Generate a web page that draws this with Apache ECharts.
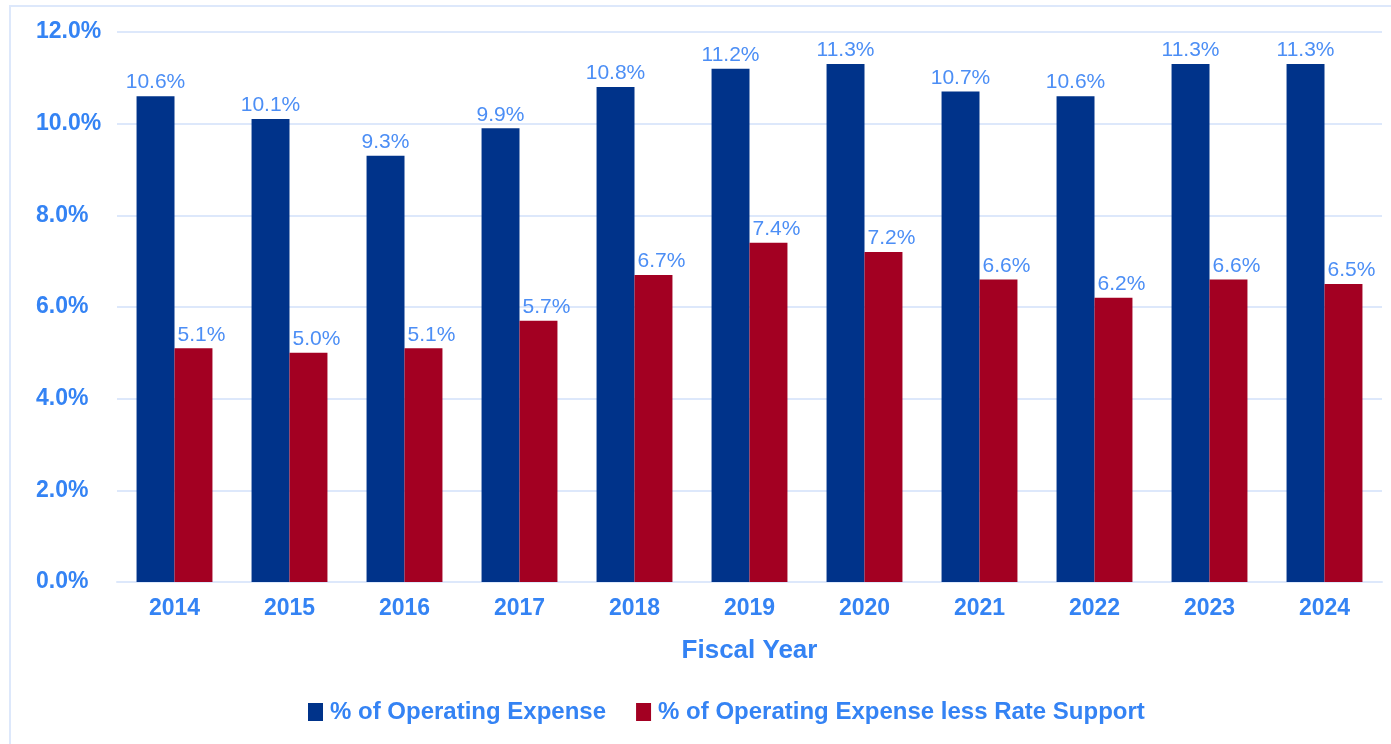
<!DOCTYPE html>
<html>
<head>
<meta charset="UTF-8">
<script src="https://cdn.jsdelivr.net/npm/echarts@6/dist/echarts.min.js"></script>
<style>
  html, body { margin: 0; padding: 0; background: #fff; }
  #main { width: 1391px; height: 744px; }
</style>
</head>
<body>
<div id="main"></div>
<script>
// fiscal years and the two ratios (percent)
var years = ['2014', '2015', '2016', '2017', '2018', '2019', '2020', '2021', '2022', '2023', '2024'];
var opExpense = [10.6, 10.1, 9.3, 9.9, 10.8, 11.2, 11.3, 10.7, 10.6, 11.3, 11.3];
var opExpenseLessRate = [5.1, 5.0, 5.1, 5.7, 6.7, 7.4, 7.2, 6.6, 6.2, 6.6, 6.5];
var seriesNames = ['% of Operating Expense', '% of Operating Expense less Rate Support'];

var textBlue = '#3483f4';
var lineBlue = '#dde8fb';
var font = '"Liberation Sans", Arial, sans-serif';

var chart = echarts.init(document.getElementById('main'));

var option = {
  backgroundColor: '#fff',
  animation: false,
  graphic: [{
    type: 'rect',
    shape: { x: 10, y: 6, width: 1400, height: 800 },
    style: { fill: 'none', stroke: lineBlue, lineWidth: 2 },
    silent: true
  }],
  grid: { left: 117, right: 9, top: 32, bottom: 162 },
  legend: {
    data: seriesNames,
    left: 303,
    top: 695,
    itemWidth: 15,
    itemHeight: 18,
    itemGap: 30,
    icon: 'rect',
    textStyle: { color: textBlue, fontSize: 24, fontWeight: 'bold', fontFamily: font, padding: [0, 0, 0, 2] }
  },
  xAxis: {
    type: 'category',
    data: years,
    name: 'Fiscal Year',
    nameLocation: 'middle',
    nameGap: 56,
    nameTextStyle: { color: textBlue, fontSize: 26, fontWeight: 'bold', fontFamily: font },
    axisLine: { lineStyle: { color: lineBlue, width: 2 } },
    axisTick: { show: false },
    axisLabel: { color: textBlue, fontSize: 23, fontWeight: 'bold', fontFamily: font, margin: 15 }
  },
  yAxis: {
    type: 'value',
    min: 0,
    max: 12,
    interval: 2,
    axisLine: { show: false },
    axisTick: { show: false },
    splitLine: { lineStyle: { color: lineBlue, width: 2 } },
    axisLabel: {
      color: textBlue, fontSize: 23, fontWeight: 'bold', fontFamily: font,
      align: 'left', margin: 81,
      formatter: function (v) { return v.toFixed(1) + '%'; }
    }
  },
  series: [{
    name: seriesNames[0],
    type: 'bar',
    data: opExpense,
    barGap: '0%',
    barCategoryGap: '34%',
    itemStyle: { color: '#00338a' },
    label: {
      show: true, position: 'top', distance: 3,
      color: '#4c8ef5', fontSize: 21, fontFamily: font,
      formatter: function (p) { return p.value.toFixed(1) + '%'; }
    }
  }, {
    name: seriesNames[1],
    type: 'bar',
    data: opExpenseLessRate,
    itemStyle: { color: '#a30022' },
    label: {
      show: true, position: 'top', distance: 3, offset: [8, 0],
      color: '#4c8ef5', fontSize: 21, fontFamily: font,
      formatter: function (p) { return p.value.toFixed(1) + '%'; }
    }
  }]
};

chart.setOption(option);
</script>
</body>
</html>
